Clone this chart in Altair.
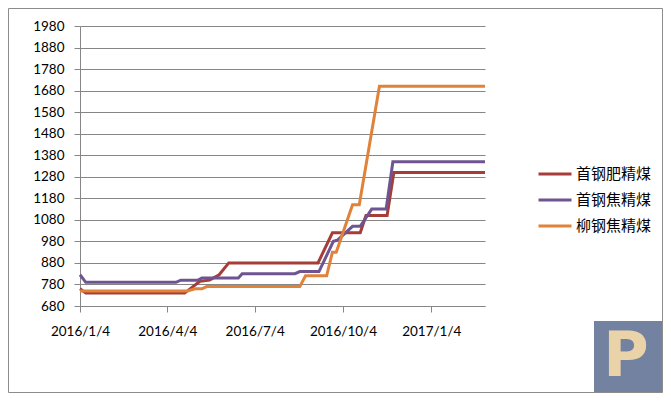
import altair as alt
import pandas as pd

series_names = ["首钢肥精煤", "首钢焦精煤", "柳钢焦精煤"]
series_colors = ["#A53D38", "#6E5592", "#E0823A"]

red_dates = ["2016-01-04", "2016-01-10", "2016-04-22", "2016-05-08", "2016-05-18",
             "2016-05-28", "2016-06-07", "2016-09-08", "2016-09-23", "2016-10-22",
             "2016-10-28", "2016-11-19", "2016-11-26", "2017-03-01"]
red_values = [760, 740, 740, 795, 800, 825, 880, 880, 1020, 1020, 1100, 1100, 1300, 1300]

purple_dates = ["2016-01-04", "2016-01-10", "2016-04-13", "2016-04-18", "2016-05-06",
                "2016-05-10", "2016-06-17", "2016-06-21", "2016-08-15", "2016-08-20",
                "2016-09-09", "2016-09-24", "2016-09-28", "2016-10-14", "2016-10-22",
                "2016-11-03", "2016-11-18", "2016-11-25", "2017-03-01"]
purple_values = [825, 790, 790, 800, 800, 810, 810, 830, 830, 840,
                 840, 980, 985, 1050, 1050, 1130, 1130, 1350, 1350]

orange_dates = ["2016-01-04", "2016-04-25", "2016-05-03", "2016-05-10", "2016-05-15",
                "2016-08-20", "2016-08-26", "2016-09-17", "2016-09-23", "2016-09-27",
                "2016-10-14", "2016-10-21", "2016-11-11", "2017-03-01"]
orange_values = [750, 750, 760, 760, 770, 770, 820, 820, 930, 930, 1150, 1150, 1700, 1700]

y_ticks = list(range(680, 1981, 100))
x_tick_dates = [(2016, 1, 4), (2016, 4, 4), (2016, 7, 4), (2016, 10, 4), (2017, 1, 4)]

rows = []
for name, ds, vs in zip(series_names,
                        [red_dates, purple_dates, orange_dates],
                        [red_values, purple_values, orange_values]):
    for d, v in zip(ds, vs):
        rows.append({"series": name, "date": d, "value": v})
df = pd.DataFrame(rows)

W, H = 405, 280
PAD_L, PAD_T, PAD_R, PAD_B = 72, 18, 178, 87

lines = alt.Chart(df).mark_line(strokeWidth=3, strokeJoin="miter").encode(
    x=alt.X("date:T",
            scale=alt.Scale(domain=[alt.DateTime(year=2016, month=1, date=4),
                                    alt.DateTime(year=2017, month=3, date=1)]),
            axis=alt.Axis(title=None, format="%Y/%-m/%-d", grid=False,
                          values=[alt.DateTime(year=y, month=m, date=d) for y, m, d in x_tick_dates],
                          tickSize=6, labelPadding=12, labelAngle=0,
                          labelOverlap=False, labelFlush=False)),
    y=alt.Y("value:Q",
            scale=alt.Scale(domain=[680, 1980], nice=False, zero=False),
            axis=alt.Axis(title=None, values=y_ticks, grid=True, tickSize=6,
                          labelPadding=10, format="d", labelOverlap=False)),
    color=alt.Color("series:N",
                    scale=alt.Scale(domain=series_names, range=series_colors),
                    sort=series_names,
                    legend=alt.Legend(title=None, orient="none", legendX=457, legendY=130,
                                      symbolType="stroke", symbolStrokeWidth=3,
                                      symbolSize=1089, rowPadding=-5, labelOffset=3,
                                      padding=0, labelFont="Noto Sans CJK SC",
                                      labelFontSize=15, labelColor="#000000")),
)

one = pd.DataFrame({"k": [0]})

border = alt.Chart(one).mark_rect(fill=None, stroke="#8C8C8C", strokeWidth=1).encode(
    x=alt.value(-PAD_L + 0.5), x2=alt.value(W + PAD_R - 0.5),
    y=alt.value(-PAD_T + 0.5), y2=alt.value(H + PAD_B - 0.5),
)

logo_bg = alt.Chart(one).mark_rect(fill="#7282A0").encode(
    x=alt.value(514), x2=alt.value(W + PAD_R - 1),
    y=alt.value(295), y2=alt.value(366),
)
logo_p = alt.Chart(one).mark_text(text="P", font="DejaVu Sans", fontWeight="bold",
                                  fontSize=62, color="#EAD3A8",
                                  align="center", baseline="middle").encode(
    x=alt.value(546), y=alt.value(331),
)

chart = alt.layer(lines, border, logo_bg, logo_p).properties(
    width=W, height=H,
    autosize=alt.AutoSizeParams(type="none"),
    padding={"left": PAD_L, "top": PAD_T, "right": PAD_R, "bottom": PAD_B},
    background="white",
).configure_view(stroke=None).configure_axis(
    domainColor="#868686", tickColor="#868686", gridColor="#868686",
    labelFont="Lato", labelFontSize=13.5, labelColor="#000000",
)

chart.save("out.html", embed_options={"renderer": "svg", "actions": False})
